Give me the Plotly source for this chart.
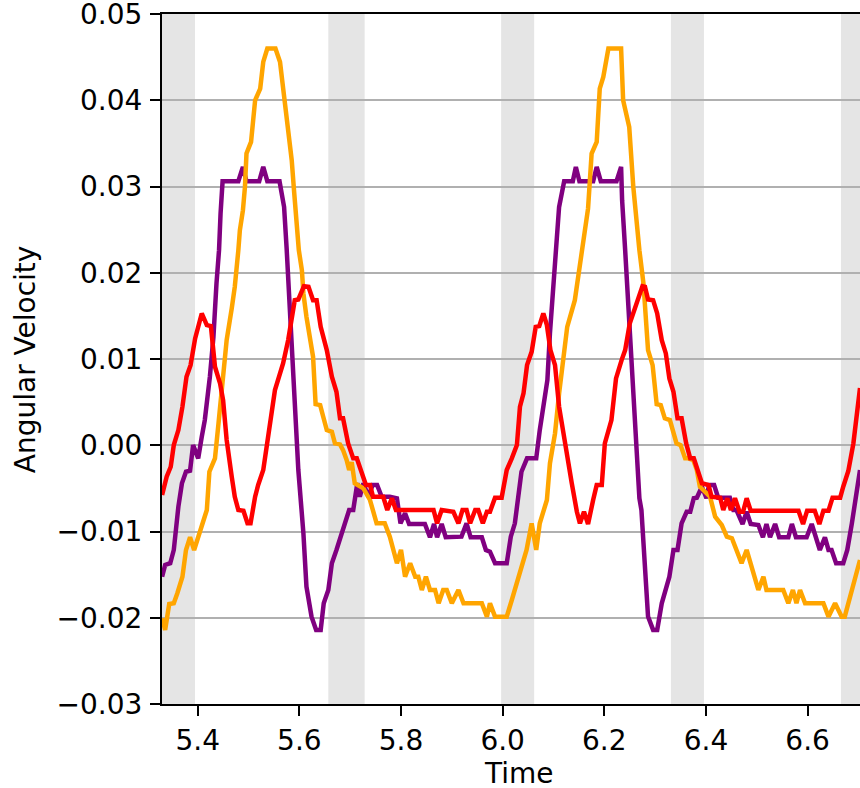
import plotly.graph_objects as go

# ---- data ----
orange_t = [5.330, 5.336, 5.344, 5.353, 5.360, 5.370, 5.377, 5.385, 5.393, 5.405,
            5.418, 5.423, 5.434, 5.441, 5.449, 5.457, 5.467, 5.473, 5.480, 5.483,
            5.489, 5.493, 5.496, 5.505, 5.513, 5.523, 5.529, 5.537, 5.553, 5.562,
            5.567, 5.572, 5.578, 5.585, 5.590, 5.595, 5.599, 5.605, 5.608, 5.614,
            5.621, 5.627, 5.632, 5.641, 5.647, 5.654, 5.664, 5.670, 5.680, 5.686,
            5.693, 5.698, 5.703, 5.709, 5.726, 5.739, 5.752, 5.768, 5.778, 5.792,
            5.800, 5.808, 5.818, 5.828, 5.834, 5.841, 5.849, 5.857, 5.867, 5.874,
            5.883, 5.890, 5.900, 5.913, 5.923, 5.959, 5.969, 5.975, 5.985, 6.008,
            6.018, 6.047, 6.057, 6.066, 6.073, 6.087, 6.093, 6.103, 6.111, 6.119,
            6.127, 6.142, 6.149, 6.155, 6.168, 6.175, 6.185, 6.191, 6.198, 6.208,
            6.233, 6.237, 6.249, 6.257, 6.264, 6.269, 6.277, 6.286, 6.295, 6.303,
            6.311, 6.319, 6.329, 6.342, 6.350, 6.359, 6.365, 6.375, 6.382, 6.388,
            6.408, 6.418, 6.431, 6.441, 6.451, 6.460, 6.470, 6.480, 6.490, 6.503,
            6.513, 6.519, 6.552, 6.562, 6.571, 6.578, 6.585, 6.595, 6.631, 6.641,
            6.654, 6.667, 6.673, 6.703]
orange_v = [-0.02006, -0.02141, -0.01840, -0.01832, -0.01716, -0.01524, -0.01214, -0.01067, -0.01214, -0.01002,
            -0.00751, -0.00307, -0.00152, 0.00254, 0.00755, 0.01219, 0.01586, 0.01837, 0.02262, 0.02494,
            0.02725, 0.02995, 0.03382, 0.03517, 0.04000, 0.04135, 0.04444, 0.04600, 0.04600, 0.04444,
            0.04193, 0.03962, 0.03652, 0.03305, 0.02919, 0.02609, 0.02262, 0.02030, 0.01760, 0.01489,
            0.01257, 0.01025, 0.00477, 0.00466, 0.00330, 0.00176, 0.00156, 0.00022, 0.00010, -0.00056,
            -0.00171, -0.00287, -0.00195, -0.00441, -0.00499, -0.00635, -0.00905, -0.00905, -0.01060, -0.01368,
            -0.01214, -0.01524, -0.01368, -0.01524, -0.01524, -0.01678, -0.01524, -0.01678, -0.01678, -0.01832,
            -0.01678, -0.01678, -0.01832, -0.01678, -0.01832, -0.01832, -0.01987, -0.01832, -0.01987, -0.01987,
            -0.01794, -0.01214, -0.00905, -0.01214, -0.00905, -0.00635, -0.00210, 0.00138, 0.00601, 0.01025,
            0.01373, 0.01682, 0.01952, 0.02262, 0.02745, 0.03382, 0.03517, 0.04135, 0.04270, 0.04600,
            0.04600, 0.04000, 0.03690, 0.02995, 0.02532, 0.02262, 0.01876, 0.01103, 0.00929, 0.00477,
            0.00466, 0.00312, 0.00292, 0.00022, 0.00002, -0.00152, -0.00152, -0.00171, -0.00287, -0.00481,
            -0.00597, -0.00828, -0.00925, -0.01060, -0.01079, -0.01214, -0.01368, -0.01214, -0.01408, -0.01678,
            -0.01524, -0.01678, -0.01678, -0.01832, -0.01678, -0.01832, -0.01678, -0.01832, -0.01832, -0.01987,
            -0.01832, -0.01987, -0.01987, -0.01330]

purple_t = [5.330, 5.336, 5.346, 5.353, 5.362, 5.369, 5.377, 5.385, 5.391, 5.401,
            5.408, 5.414, 5.424, 5.431, 5.437, 5.442, 5.445, 5.449, 5.480, 5.489,
            5.496, 5.521, 5.529, 5.537, 5.561, 5.570, 5.575, 5.582, 5.588, 5.595,
            5.598, 5.608, 5.614, 5.624, 5.633, 5.642, 5.648, 5.657, 5.664, 5.673,
            5.686, 5.698, 5.706, 5.714, 5.719, 5.726, 5.736, 5.744, 5.753, 5.762,
            5.778, 5.792, 5.799, 5.808, 5.816, 5.847, 5.857, 5.865, 5.871, 5.880,
            5.888, 5.919, 5.929, 5.937, 5.959, 5.967, 5.975, 5.985, 6.008, 6.016,
            6.024, 6.033, 6.037, 6.048, 6.066, 6.073, 6.088, 6.093, 6.100, 6.105,
            6.111, 6.121, 6.138, 6.144, 6.151, 6.178, 6.185, 6.193, 6.224, 6.233,
            6.235, 6.241, 6.250, 6.260, 6.269, 6.273, 6.280, 6.286, 6.296, 6.304,
            6.313, 6.328, 6.336, 6.344, 6.352, 6.362, 6.369, 6.376, 6.382, 6.392,
            6.401, 6.406, 6.416, 6.424, 6.447, 6.454, 6.460, 6.472, 6.480, 6.488,
            6.503, 6.512, 6.519, 6.526, 6.536, 6.544, 6.562, 6.569, 6.577, 6.598,
            6.608, 6.624, 6.634, 6.641, 6.647, 6.656, 6.670, 6.678, 6.687, 6.703]
purple_v = [-0.01524, -0.01388, -0.01368, -0.01214, -0.00713, -0.00441, -0.00307, -0.00295, 0.00002, -0.00152,
            0.00098, 0.00292, 0.00794, 0.01257, 0.01876, 0.02262, 0.02687, 0.03061, 0.03061, 0.03227,
            0.03061, 0.03061, 0.03227, 0.03061, 0.03061, 0.02763, 0.02281, 0.01489, 0.00717, 0.00022,
            -0.00287, -0.01021, -0.01640, -0.01987, -0.02141, -0.02141, -0.01832, -0.01678, -0.01368, -0.01214,
            -0.00983, -0.00751, -0.00751, -0.00441, -0.00597, -0.00441, -0.00597, -0.00461, -0.00461, -0.00597,
            -0.00597, -0.00615, -0.00905, -0.00789, -0.00913, -0.00913, -0.01067, -0.00913, -0.01067, -0.00913,
            -0.01067, -0.01060, -0.00905, -0.01067, -0.01067, -0.01214, -0.01234, -0.01368, -0.01368, -0.01060,
            -0.00905, -0.00519, -0.00307, -0.00152, -0.00152, 0.00176, 0.00755, 0.01297, 0.01876, 0.02262,
            0.02763, 0.03061, 0.03061, 0.03227, 0.03061, 0.03061, 0.03227, 0.03061, 0.03061, 0.03227,
            0.02841, 0.02262, 0.01297, 0.00138, -0.00615, -0.00751, -0.01524, -0.01987, -0.02141, -0.02141,
            -0.01832, -0.01524, -0.01214, -0.01214, -0.00905, -0.00771, -0.00771, -0.00615, -0.00608, -0.00481,
            -0.00615, -0.00461, -0.00461, -0.00608, -0.00608, -0.00751, -0.00751, -0.00913, -0.00771, -0.00913,
            -0.00925, -0.01067, -0.00913, -0.01067, -0.00913, -0.01067, -0.01067, -0.00913, -0.01067, -0.01067,
            -0.00913, -0.01214, -0.01067, -0.01214, -0.01214, -0.01368, -0.01368, -0.01214, -0.00905, -0.00287]

red_t = [5.330, 5.339, 5.347, 5.353, 5.362, 5.370, 5.378, 5.386, 5.395, 5.408,
         5.418, 5.426, 5.434, 5.444, 5.450, 5.457, 5.467, 5.473, 5.480, 5.490,
         5.498, 5.504, 5.513, 5.519, 5.529, 5.537, 5.552, 5.568, 5.578, 5.591,
         5.598, 5.609, 5.618, 5.627, 5.634, 5.642, 5.654, 5.664, 5.673, 5.680,
         5.686, 5.696, 5.706, 5.713, 5.725, 5.731, 5.739, 5.745, 5.765, 5.773,
         5.782, 5.790, 5.864, 5.871, 5.880, 5.903, 5.913, 5.921, 5.929, 5.936,
         5.946, 5.952, 5.961, 5.969, 5.975, 5.985, 5.998, 6.008, 6.018, 6.028,
         6.034, 6.041, 6.048, 6.057, 6.065, 6.072, 6.080, 6.087, 6.094, 6.103,
         6.111, 6.123, 6.132, 6.136, 6.146, 6.152, 6.160, 6.168, 6.178, 6.185,
         6.195, 6.201, 6.214, 6.223, 6.234, 6.241, 6.250, 6.264, 6.275, 6.280,
         6.286, 6.296, 6.304, 6.313, 6.321, 6.328, 6.336, 6.344, 6.352, 6.361,
         6.369, 6.376, 6.385, 6.392, 6.405, 6.411, 6.428, 6.434, 6.442, 6.449,
         6.457, 6.466, 6.473, 6.480, 6.488, 6.582, 6.591, 6.599, 6.614, 6.623,
         6.631, 6.641, 6.649, 6.664, 6.670, 6.680, 6.690, 6.700, 6.703]
red_v = [-0.00577, -0.00365, -0.00249, 0.00002, 0.00176, 0.00446, 0.00794, 0.00929, 0.01239, 0.01528,
         0.01393, 0.01381, 0.00910, 0.00717, 0.00524, 0.00060, -0.00365, -0.00597, -0.00751, -0.00759,
         -0.00905, -0.00905, -0.00597, -0.00461, -0.00287, 0.00022, 0.00640, 0.00949, 0.01219, 0.01682,
         0.01690, 0.01845, 0.01837, 0.01682, 0.01682, 0.01373, 0.01103, 0.00794, 0.00620, 0.00312,
         0.00312, 0.00022, -0.00152, -0.00152, -0.00365, -0.00461, -0.00461, -0.00597, -0.00597, -0.00751,
         -0.00615, -0.00751, -0.00751, -0.00905, -0.00751, -0.00771, -0.00905, -0.00751, -0.00751, -0.00905,
         -0.00751, -0.00751, -0.00905, -0.00771, -0.00771, -0.00608, -0.00608, -0.00287, -0.00152, 0.00002,
         0.00446, 0.00601, 0.00929, 0.01083, 0.01373, 0.01381, 0.01528, 0.01393, 0.01103, 0.00929,
         0.00446, 0.00022, -0.00365, -0.00441, -0.00771, -0.00905, -0.00771, -0.00913, -0.00635, -0.00461,
         -0.00461, 0.00022, 0.00292, 0.00775, 0.00987, 0.01103, 0.01412, 0.01644, 0.01845, 0.01837,
         0.01690, 0.01682, 0.01528, 0.01219, 0.01065, 0.00775, 0.00620, 0.00312, 0.00312, 0.00022,
         -0.00152, -0.00152, -0.00307, -0.00441, -0.00461, -0.00597, -0.00608, -0.00751, -0.00615, -0.00751,
         -0.00615, -0.00771, -0.00771, -0.00615, -0.00759, -0.00759, -0.00913, -0.00759, -0.00759, -0.00913,
         -0.00759, -0.00759, -0.00608, -0.00608, -0.00481, -0.00299, 0.00022, 0.00562, 0.00663]

band_start = [5.300, 5.657, 5.997, 6.331, 6.6655]
band_end = [5.3947, 5.7285, 6.062, 6.396, 6.750]

x_ticks = [5.4, 5.6, 5.8, 6.0, 6.2, 6.4, 6.6]
y_ticks = [-0.03, -0.02, -0.01, 0.00, 0.01, 0.02, 0.03, 0.04, 0.05]
x_range = [5.3298, 6.703]
y_range = [-0.0300001, 0.0500001]

fig = go.Figure()
for t, v, c in [(purple_t, purple_v, "#800080"),
                (orange_t, orange_v, "#ffa500"),
                (red_t, red_v, "#ff0000")]:
    fig.add_trace(go.Scatter(x=t, y=v, mode="lines",
                             line=dict(color=c, width=4.5), showlegend=False))

for s, e in zip(band_start, band_end):
    fig.add_shape(type="rect", xref="x", yref="paper", x0=s, x1=e, y0=0, y1=1,
                  fillcolor="#e5e5e5", line=dict(width=0), layer="below")

fig.update_layout(
    width=860, height=788,
    margin=dict(l=162, r=0, t=14, b=84),
    plot_bgcolor="white", paper_bgcolor="white",
    font=dict(family="DejaVu Sans", size=28, color="black"),
    showlegend=False,
)
fig.update_xaxes(range=x_range, tickvals=x_ticks, tickformat=".1f",
                 ticks="outside", ticklen=10, tickwidth=2.2, tickcolor="black",
                 showline=True, linewidth=2.2, linecolor="black", mirror=True,
                 showgrid=False, zeroline=False, automargin=False,
                 ticklabeloverflow="allow")
fig.update_yaxes(range=y_range, tickvals=y_ticks, tickformat=".2f",
                 ticks="outside", ticklen=10, tickwidth=2.2, tickcolor="black",
                 showline=True, linewidth=2.2, linecolor="black", mirror=False,
                 showgrid=True, gridcolor="#b0b0b0", gridwidth=2.2, zeroline=False,
                 automargin=False, ticklabelstandoff=2, ticklabeloverflow="allow")

# axis titles as annotations positioned like the reference
fig.add_annotation(text="Time", xref="paper", yref="paper",
                   x=0.511, y=-0.1005, xanchor="center", yanchor="middle",
                   showarrow=False, font=dict(size=28))
fig.add_annotation(text="Angular Velocity", xref="paper", yref="paper",
                   x=-0.196, y=0.5, xanchor="center", yanchor="middle",
                   textangle=-90, showarrow=False, font=dict(size=28))

fig.write_html(
    "out.html",
    config={"displayModeBar": False},
    post_script="document.body.style.margin='0';document.body.style.padding='0';"
                "document.body.style.overflow='hidden';",
)
